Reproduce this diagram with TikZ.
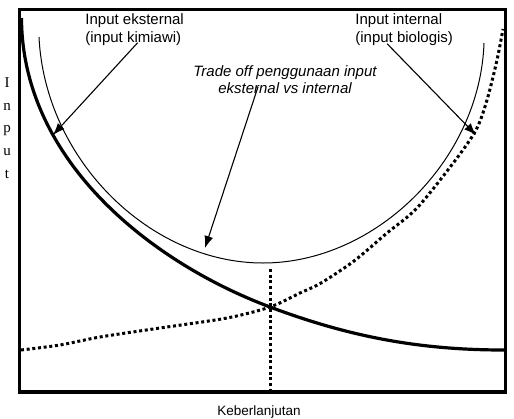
\documentclass[tikz,border=0pt]{standalone}
\usepackage{fontspec}
\setmainfont{Liberation Serif}
\newfontfamily\arialish{Liberation Sans}
\usetikzlibrary{arrows.meta, positioning}
\tikzstyle{frame}=[line width=1.8pt]
\tikzstyle{extcurve}=[line width=1.6pt]
\tikzstyle{intcurve}=[line width=1.5pt, dash pattern=on 1.5pt off 1.35pt]
\tikzstyle{tradecurve}=[line width=0.5pt]
\tikzstyle{pointer}=[->, line width=0.55pt]
\tikzstyle{txt}=[inner sep=0pt, align=left, font={\arialish\fontsize{7.5}{9}\selectfont}]

\begin{document}
\begin{tikzpicture}[x=0.5pt,y=-0.5pt,>={Latex[length=6pt,width=4.5pt]}]
    \useasboundingbox (0,0) rectangle (514,418);
    \draw[frame] (19.5,9.5) rectangle (505.5,392);
    % kurva trade off
    \draw[tradecurve] (39,37) .. controls (45,160) and (150,263) .. (263,263)
        .. controls (376,263) and (480,160) .. (484,43);
    % input eksternal
    \draw[extcurve] (21.5,18) .. controls (22,160) and (150,262) .. (270,307)
        .. controls (350,337) and (420,350) .. (504,350);
    % input internal
    \draw[intcurve] plot[smooth] coordinates {(21,350) (60,345) (100,337) (160,328)
        (227,318) (270,307) (300,293) (321,283) (354,261) (387,233) (417,208)
        (454,162) (476,130) (487,100) (497,60) (503,29)};
    \draw[intcurve] (270,269) -- (270,390);
    % teks
    \node[txt, anchor=north west] (ekst) at (85,13) {Input eksternal\\(input kimiawi)};
    \node[txt, anchor=north west] (intern) at (355,13) {Input internal\\(input biologis)};
    \node[txt, align=center, anchor=north, font={\arialish\itshape\fontsize{7.5}{8.5}\selectfont}] (trade) at (285,65)
        {Trade off penggunaan input\\eksternal vs internal};
    \node[inner sep=0pt, align=center, anchor=north, font={\fontsize{7.5}{11.4}\selectfont}] (ylab) at (7,77)
        {I\\n\\p\\u\\t};
    \node[txt, anchor=base, font={\arialish\fontsize{6.75}{8}\selectfont}] (xlab) at (259,415) {Keberlanjutan};
    % panah
    \coordinate (tipE) at (53,135);
    \coordinate (tipI) at (476,135);
    \coordinate (tipT) at (205,248);
    \draw[pointer] ([xshift=1.5pt,yshift=1.5pt]ekst.south) -- (tipE);
    \draw[pointer] ([xshift=-8.5pt,yshift=1pt]intern.south) -- (tipI);
    \draw[pointer] ([xshift=-13.5pt,yshift=3.5pt]trade.south) -- (tipT);
\end{tikzpicture}
\end{document}
